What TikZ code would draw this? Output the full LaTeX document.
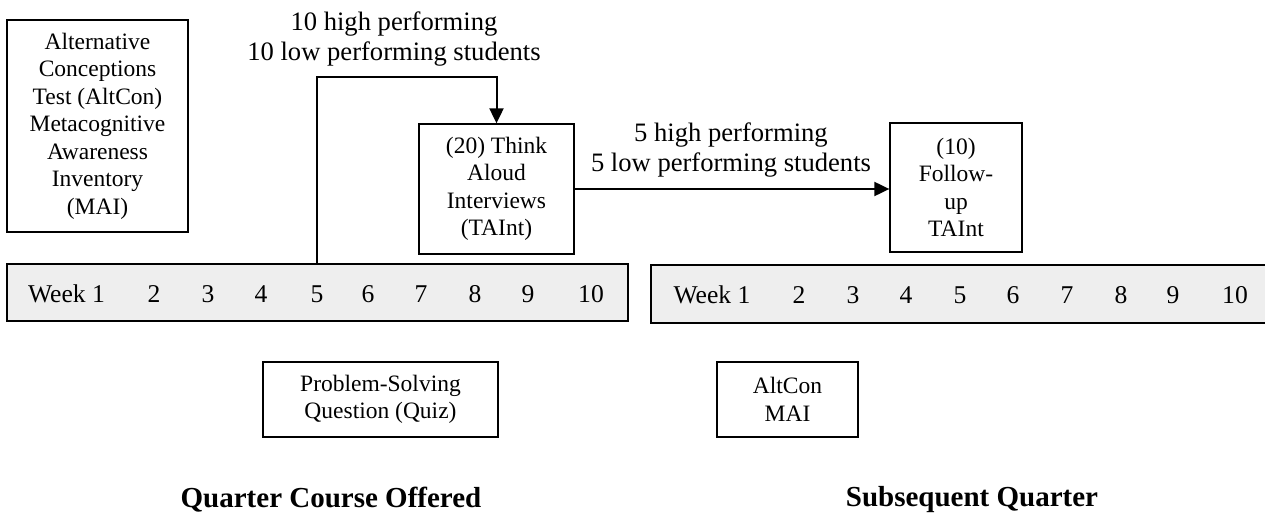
\documentclass[tikz,border=0pt]{standalone}
\usepackage{fontspec}
\setmainfont{Liberation Serif}
\usetikzlibrary{arrows.meta}
\definecolor{tlgray}{RGB}{238,238,238}
\begin{document}
\begin{tikzpicture}[x=1pt,y=-1pt,
 box/.style={draw,line width=1.3pt,rectangle,align=center,inner sep=0pt,font=\fontsize{23.5}{27.5}\selectfont},
 timeline/.style={draw,line width=2.2pt,fill=tlgray,rectangle,inner sep=0pt},
 week/.style={font=\fontsize{25.6}{30}\selectfont,inner sep=0pt,anchor=center},
 lbl/.style={align=center,inner sep=0pt,font=\fontsize{26.6}{30}\selectfont},
 titletext/.style={font=\bfseries\fontsize{29}{34}\selectfont,inner sep=0pt},
 arr/.style={line width=2pt,-{Triangle[length=15pt,width=14pt]}}]
\useasboundingbox (0,0) rectangle (1265,521);

% left box
\node[box,minimum width=181pt,minimum height=212pt] (alt) at (97.5,126)
  {Alternative\\Conceptions\\Test (AltCon)\\Metacognitive\\Awareness\\Inventory\\(MAI)};

% timelines
\node[timeline,minimum width=621pt,minimum height=57pt] (tl1) at (317.5,292.5) {};
\node[timeline,minimum width=624pt,minimum height=58pt] (tl2) at (963,294) {};

\node[week] (wa1) at (66.5,294) {Week 1};
\foreach \n/\x in {2/154,3/208,4/261,5/317,6/368,7/421,8/475,9/528,10/591}
  \node[week] (wa\n) at (\x,294) {\n};
\node[week] (wb1) at (712,295) {Week 1};
\foreach \n/\x in {2/799,3/853,4/906,5/960,6/1013,7/1067,8/1121,9/1173,10/1235}
  \node[week] (wb\n) at (\x,295) {\n};

% interview boxes
\node[box,minimum width=155pt,minimum height=130pt] (taint) at (496.5,189)
  {(20) Think\\Aloud\\Interviews\\(TAInt)};
\node[box,minimum width=132pt,minimum height=129pt] (follow) at (956,187.5)
  {(10)\\Follow-\\up\\TAInt};

% lower boxes
\node[box,minimum width=235pt,minimum height=75pt] (quiz) at (380.5,399.5)
  {Problem-Solving\\Question (Quiz)};
\node[box,minimum width=141pt,minimum height=75pt] (altmai) at (787.5,399.5)
  {AltCon\\MAI};

% labels
\node[lbl] (top) at (394,39) {10 high performing\\10 low performing students};
\node[lbl] (mid) at (731,150) {5 high performing\\5 low performing students};

% connectors
\coordinate (bend1) at (317,77);
\draw[arr] (bend1 |- tl1.north) -- (bend1) -| (taint.north);
\draw[arr] (taint.east) -- (taint.east -| follow.west);

% titles
\node[titletext] (q1) at (331,500) {Quarter Course Offered};
\node[titletext] (q2) at (972,500) {Subsequent Quarter};
\end{tikzpicture}
\end{document}
